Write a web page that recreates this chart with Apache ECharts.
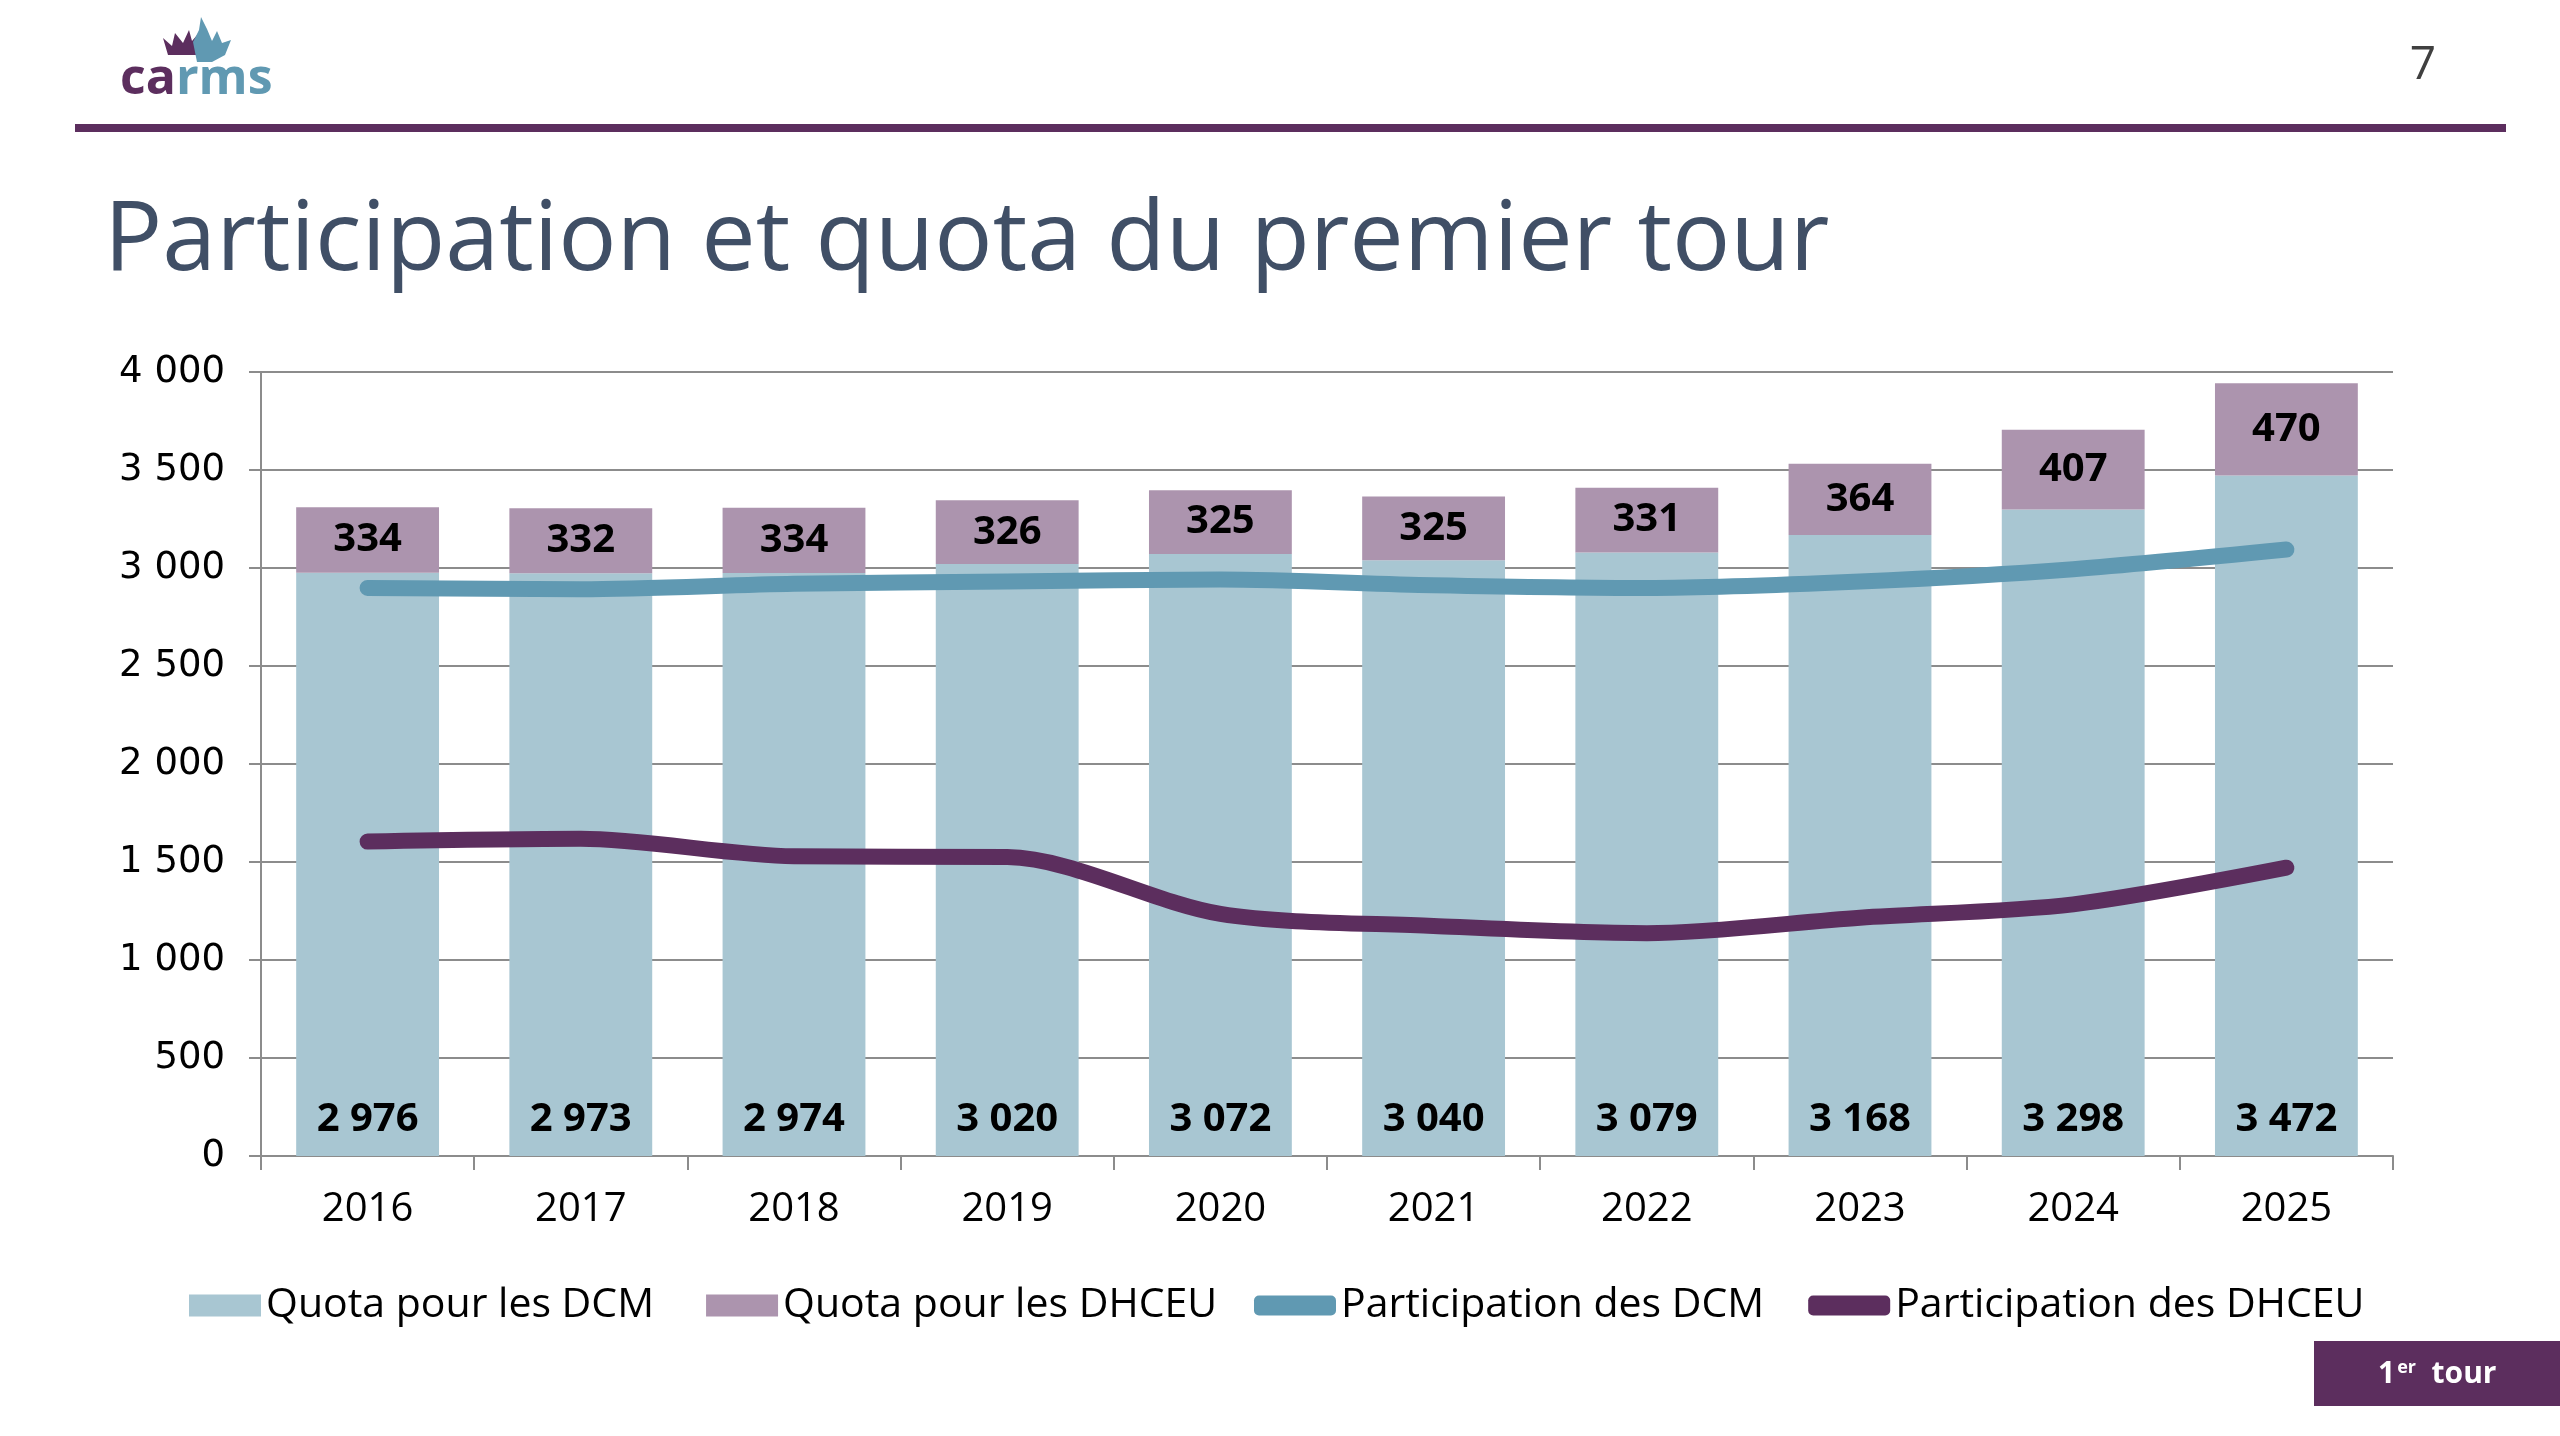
<!DOCTYPE html>
<html>
<head>
<meta charset="utf-8">
<script src="https://cdn.jsdelivr.net/npm/echarts@6/dist/echarts.min.js"></script>
<style>
html,body{margin:0;padding:0;background:#fff;}
#chart{width:2560px;height:1436px;}
</style>
</head>
<body>
<div id="chart"></div>
<script>
const years = ['2016','2017','2018','2019','2020','2021','2022','2023','2024','2025'];
const quotaDCM = [2976, 2973, 2974, 3020, 3072, 3040, 3079, 3168, 3298, 3472];
const quotaDHCEU = [334, 332, 334, 326, 325, 325, 331, 364, 407, 470];
const partDCM = [2898, 2892, 2920, 2931, 2941, 2912, 2898, 2931, 2994, 3094];
const partDHCEU = [1604, 1618, 1529, 1525, 1235, 1174, 1137, 1216, 1284, 1471];
const yTicks = [0, 500, 1000, 1500, 2000, 2500, 3000, 3500, 4000];

const C_BLUE = '#a8c6d2';
const C_MAUVE = '#ac94ae';
const C_TEAL = '#6099b2';
const C_PURPLE = '#5c2e5e';
const GRID = '#8c8c8c';

function fmt(v){ return String(v).replace(/\B(?=(\d{3})+(?!\d))/g, ' '); }

const chart = echarts.init(document.getElementById('chart'), null, {renderer:'canvas'});
const legendText = {fontFamily: 'Open Sans', fontSize: 41, color: '#000'};
const option = {
  backgroundColor: '#ffffff',
  animation: false,
  grid: {left: 261, right: 167, top: 372, bottom: 280, containLabel: false},
  legend: [
    {
      top: 1280, left: 184,
      itemWidth: 72, itemHeight: 22, itemGap: 52,
      textStyle: legendText,
      data: [
        {name: 'Quota pour les DCM', icon: 'rect'},
        {name: 'Quota pour les DHCEU', icon: 'rect'}
      ]
    },
    {
      top: 1280, left: 1249,
      itemWidth: 82, itemHeight: 20, itemGap: 44,
      textStyle: legendText,
      data: [
        {name: 'Participation des DCM', icon: 'roundRect'},
        {name: 'Participation des DHCEU', icon: 'roundRect'}
      ]
    }
  ],
  xAxis: {
    type: 'category', data: years, boundaryGap: true,
    axisLine: {show: true, lineStyle: {color: GRID, width: 2}},
    axisTick: {show: true, alignWithLabel: false, length: 14, lineStyle: {color: GRID, width: 2}},
    axisLabel: {margin: 34, fontFamily: 'Open Sans', fontSize: 40, color: '#000'}
  },
  yAxis: {
    type: 'value', min: yTicks[0], max: yTicks[yTicks.length-1], interval: 500,
    axisLine: {show: true, lineStyle: {color: GRID, width: 2}},
    axisTick: {show: true, inside: false, length: 12, lineStyle: {color: GRID, width: 2}},
    splitLine: {show: true, lineStyle: {color: GRID, width: 2}},
    axisLabel: {margin: 36, fontFamily: 'DejaVu Sans', fontSize: 37, color: '#000', formatter: fmt}
  },
  series: [
    {
      name: 'Quota pour les DCM', type: 'bar', stack: 'q', data: quotaDCM,
      barCategoryGap: '33%',
      itemStyle: {color: C_BLUE},
      label: {show: true, position: 'insideBottom', distance: 16, fontFamily: 'Open Sans', fontWeight: 'bold', fontSize: 40, color: '#000', formatter: p => fmt(p.value)},
      z: 2
    },
    {
      name: 'Quota pour les DHCEU', type: 'bar', stack: 'q', data: quotaDHCEU,
      itemStyle: {color: C_MAUVE},
      label: {show: true, position: 'inside', fontFamily: 'Open Sans', fontWeight: 'bold', fontSize: 40, color: '#000', formatter: p => fmt(p.value)},
      z: 2
    },
    {
      name: 'Participation des DCM', type: 'line', data: partDCM, smooth: 0.3,
      showSymbol: false, symbol: 'none',
      itemStyle: {color: C_TEAL},
      lineStyle: {color: C_TEAL, width: 16, cap: 'round', join: 'round'},
      z: 5
    },
    {
      name: 'Participation des DHCEU', type: 'line', data: partDHCEU, smooth: 0.3,
      showSymbol: false, symbol: 'none',
      itemStyle: {color: C_PURPLE},
      lineStyle: {color: C_PURPLE, width: 16, cap: 'round', join: 'round'},
      z: 5
    }
  ],
  graphic: [
    // header rule
    {type: 'rect', shape: {x: 75, y: 124, width: 2431, height: 8}, style: {fill: C_PURPLE}},
    // page number
    {type: 'text', x: 2423, y: 66, style: {text: '7', font: '46px "Open Sans"', fill: '#404040', align: 'center', verticalAlign: 'middle'}},
    // title
    {type: 'text', x: 104, y: 242, style: {text: 'Participation et quota du premier tour', font: '97px "Open Sans"', fill: '#404f66', align: 'left', verticalAlign: 'middle'}},
    // logo leaves
    {type: 'polygon', shape: {points: [[163,38],[172,46],[175,33],[183,43],[189,30],[192,41],[198,34],[198,55],[168,55]]}, style: {fill: C_PURPLE}},
    {type: 'polygon', shape: {points: [[197,62],[193,42],[199,30],[201,17],[207,29],[212,41],[217,31],[222,43],[231,40],[225,55],[212,62]]}, style: {fill: C_TEAL}},
    // logo text
    {type: 'text', x: 120, y: 80, style: {
      text: '{a|ca}{b|rms}', verticalAlign: 'middle', align: 'left',
      rich: {
        a: {fontFamily: 'Open Sans', fontWeight: 'bold', fontSize: 50, fill: C_PURPLE, color: C_PURPLE},
        b: {fontFamily: 'Open Sans', fontWeight: 'bold', fontSize: 50, fill: C_TEAL, color: C_TEAL}
      }
    }},
    // 1er tour box
    {type: 'rect', shape: {x: 2314, y: 1341, width: 246, height: 65}, style: {fill: C_PURPLE}},
    {type: 'text', x: 2378, y: 1374, style: {
      text: '{n|1}{s|er}{t|  tour}', verticalAlign: 'middle', align: 'left',
      rich: {
        n: {fontFamily: 'Open Sans', fontWeight: 'bold', fontSize: 30, fill: '#fff', color: '#fff'},
        s: {fontFamily: 'Open Sans', fontWeight: 'bold', fontSize: 18, fill: '#fff', color: '#fff', verticalAlign: 'top', padding: [0,0,12,2]},
        t: {fontFamily: 'Open Sans', fontWeight: 'bold', fontSize: 30, fill: '#fff', color: '#fff'}
      }
    }}
  ]
};
chart.setOption(option);
</script>
</body>
</html>
